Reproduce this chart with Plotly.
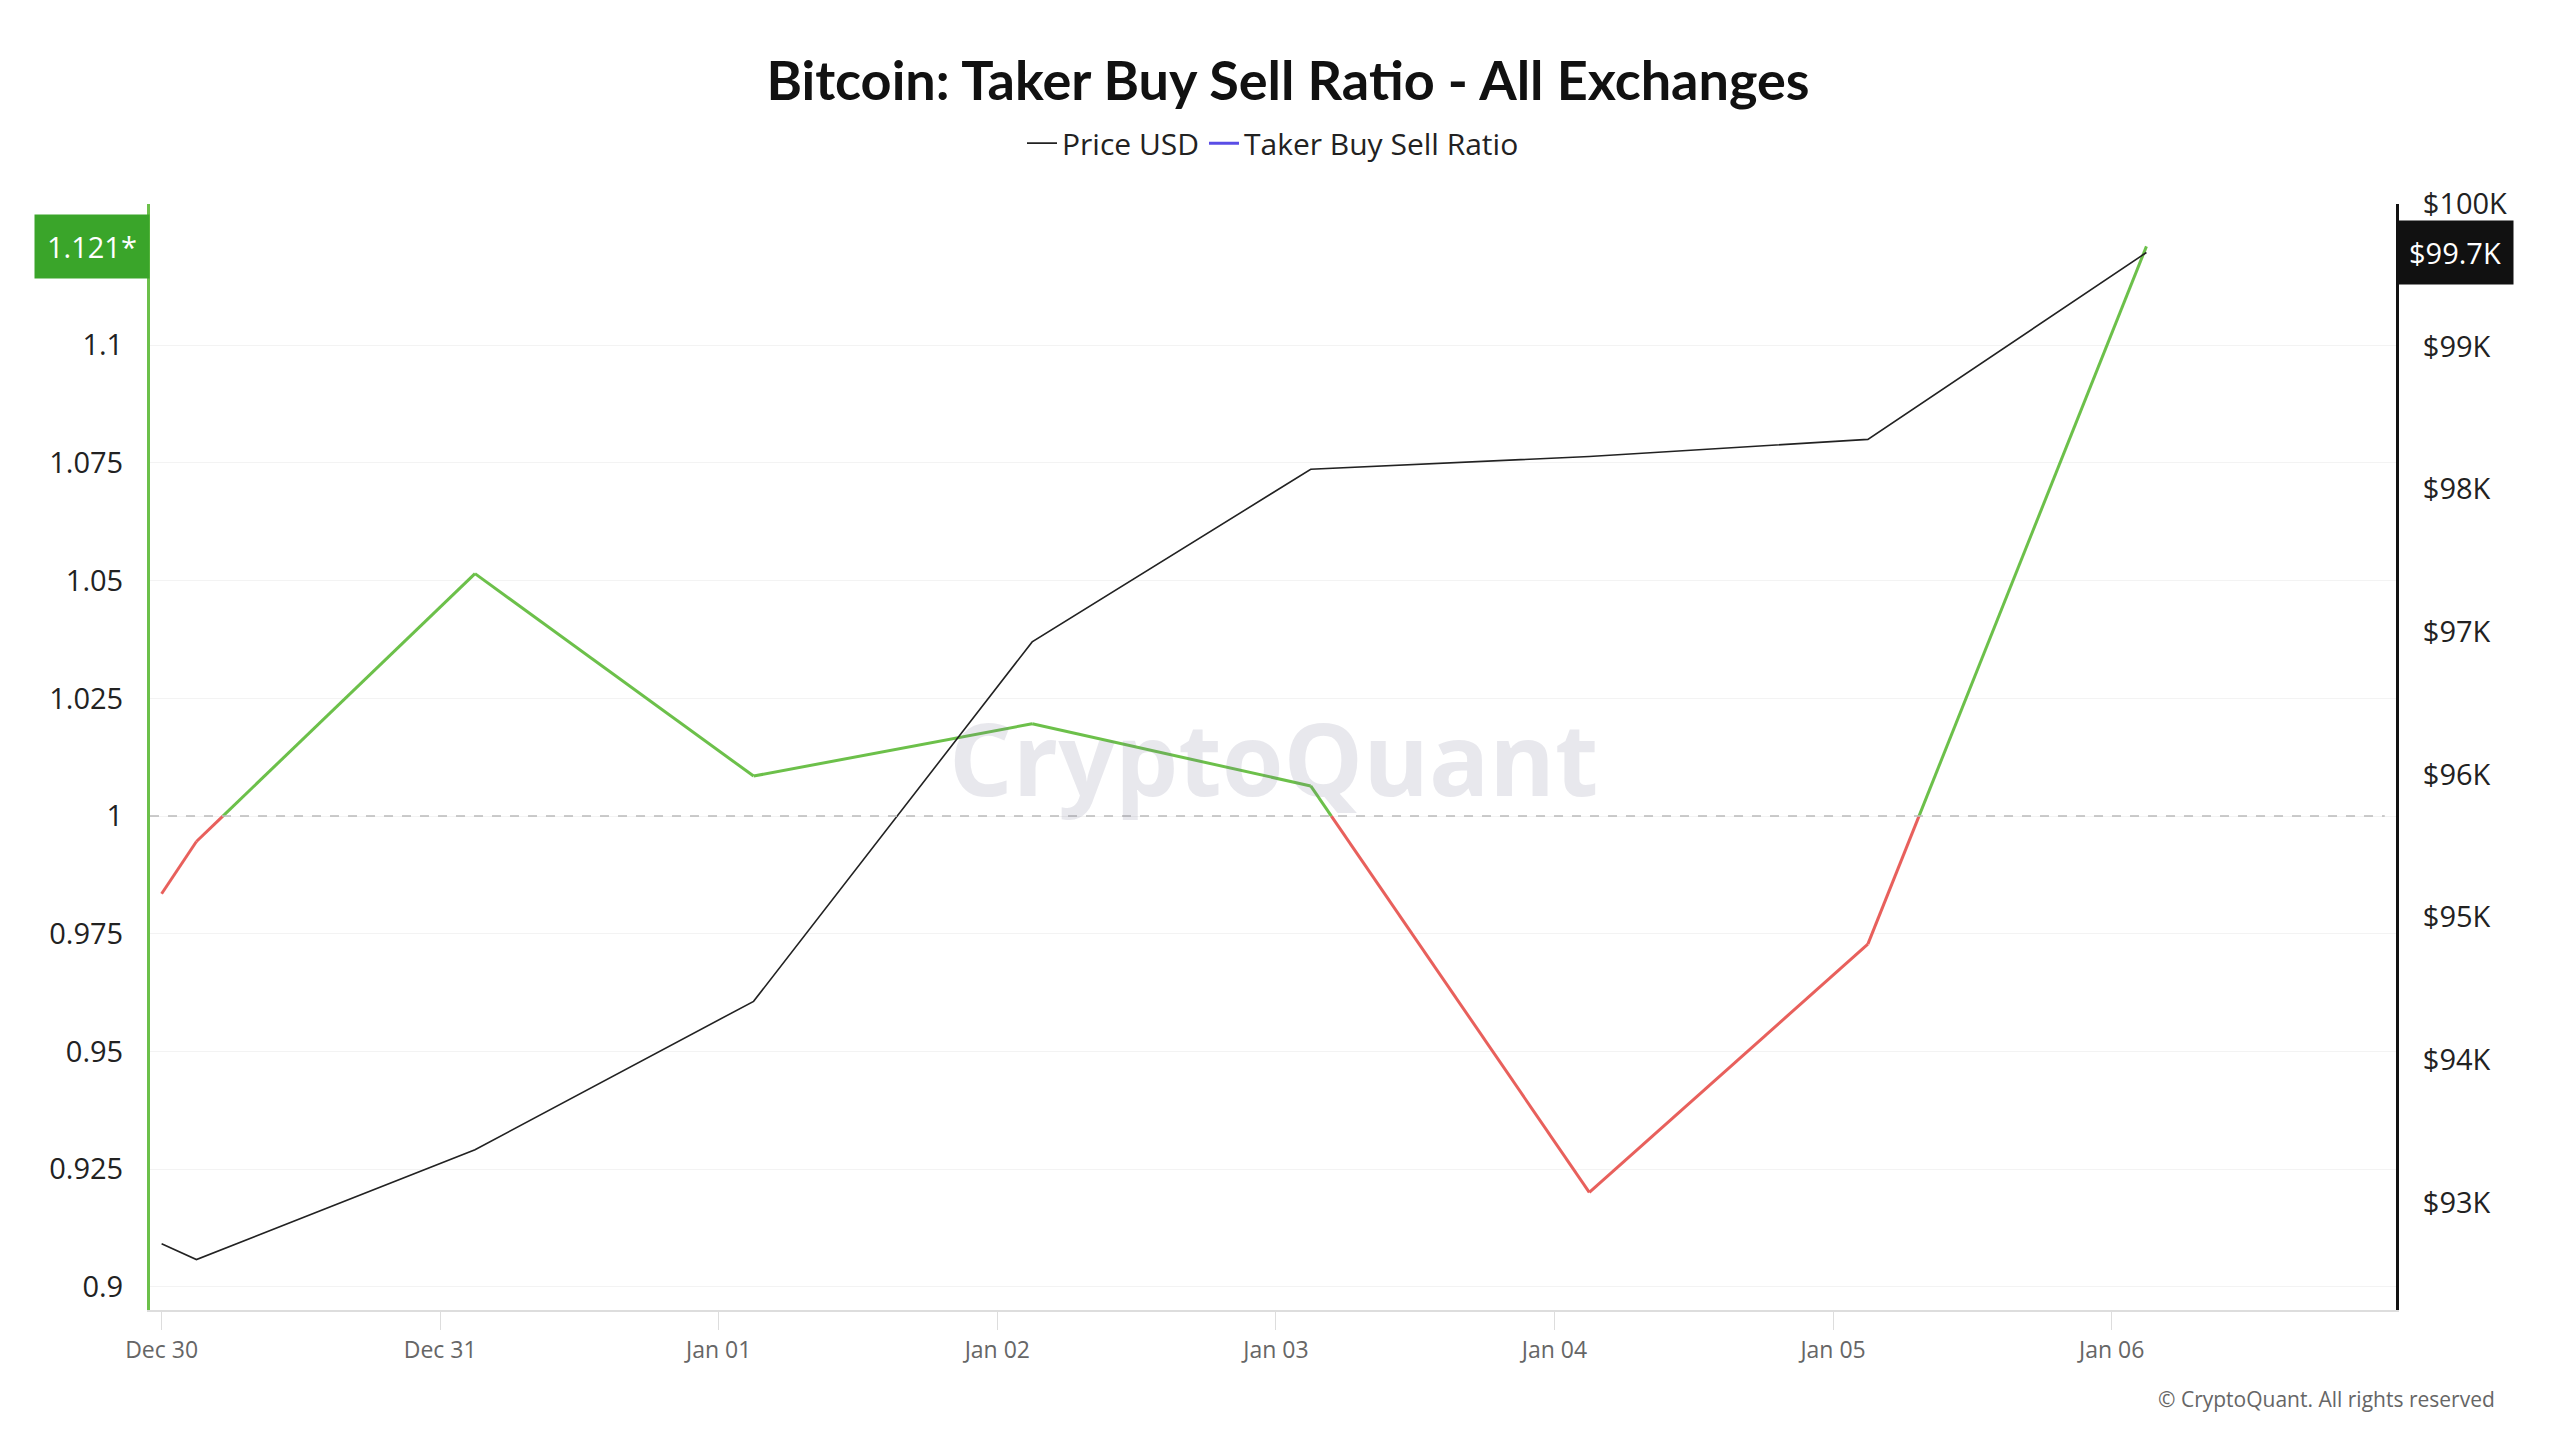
import plotly.graph_objects as go
from datetime import datetime

dates = ["2024-12-30 00:00", "2024-12-30 03:00", "2024-12-31 03:00", "2025-01-01 03:00",
         "2025-01-02 03:00", "2025-01-03 03:00", "2025-01-04 03:00", "2025-01-05 03:00",
         "2025-01-06 03:00"]
ratio = [0.9835, 0.9946, 1.0515, 1.0085, 1.0196, 1.0064, 0.9201, 0.9728, 1.121]
price = [92710, 92600, 93370, 94410, 96930, 98140, 98230, 98350, 99660]
left_ticks = [0.9, 0.925, 0.95, 0.975, 1, 1.025, 1.05, 1.075, 1.1]
right_ticks = [93000, 94000, 95000, 96000, 97000, 98000, 99000, 100000]
right_text = ["$93K", "$94K", "$95K", "$96K", "$97K", "$98K", "$99K", "$100K"]
x_ticks = ["2024-12-30", "2024-12-31", "2025-01-01", "2025-01-02", "2025-01-03",
           "2025-01-04", "2025-01-05", "2025-01-06"]
x_text = ["Dec 30", "Dec 31", "Jan 01", "Jan 02", "Jan 03", "Jan 04", "Jan 05", "Jan 06"]

GREEN, RED = "#6cc04a", "#e8605c"
dt = [datetime.strptime(d, "%Y-%m-%d %H:%M") for d in dates]

segs = []
for i in range(len(dt) - 1):
    x0, x1, y0, y1 = dt[i], dt[i + 1], ratio[i], ratio[i + 1]
    if (y0 - 1) * (y1 - 1) < 0:
        t = (1 - y0) / (y1 - y0)
        xc = x0 + (x1 - x0) * t
        segs.append(([x0, xc], [y0, 1], y0 >= 1))
        segs.append(([xc, x1], [1, y1], y1 >= 1))
    else:
        segs.append(([x0, x1], [y0, y1], (y0 + y1) / 2 >= 1))

fig = go.Figure()
fig.add_trace(go.Scatter(x=dt, y=price, yaxis="y2", mode="lines", name="Price USD",
                         line=dict(color="#222222", width=1.6)))
fig.add_trace(go.Scatter(x=[None], y=[None], mode="lines", name="Taker Buy Sell Ratio",
                         line=dict(color="#5a4de6", width=3)))
for xs, ys, up in segs:
    fig.add_trace(go.Scatter(x=xs, y=ys, mode="lines", showlegend=False,
                             line=dict(color=GREEN if up else RED, width=3)))

fig.add_shape(type="line", xref="paper", x0=0, x1=0.995, y0=1, y1=1, yref="y",
              line=dict(color="#bbbbbb", width=1.5, dash="dash"))

fig.update_layout(
    width=2560, height=1440, plot_bgcolor="white", paper_bgcolor="white",
    font=dict(family="Open Sans", color="#222222"),
    title=dict(text="<b>Bitcoin: Taker Buy Sell Ratio - All Exchanges</b>", x=0.5, y=0.949,
               xanchor="center", yanchor="middle", font=dict(size=54, family="Lato", color="#111111")),
    legend=dict(orientation="h", x=0.5, xanchor="center", y=1.055, yanchor="middle",
                font=dict(size=30)),
    margin=dict(l=142, r=172, t=196, b=138),
    xaxis=dict(type="date", range=["2024-12-29 23:00", "2025-01-07 00:30"],
               tickvals=x_ticks, ticktext=x_text, tickfont=dict(size=23, color="#666"),
               showgrid=False, ticks="outside", ticklen=18, tickcolor="#ddd",
               showline=True, linecolor="#ddd", linewidth=2),
    yaxis=dict(range=[0.8951, 1.130], tickvals=left_ticks, ticktext=[str(v) for v in left_ticks],
               tickfont=dict(size=29), showgrid=True, gridcolor="#f3f3f3",
               showline=True, linecolor=GREEN, linewidth=3, zeroline=False, ticklen=18,
               ticks="outside", tickcolor="white"),
    yaxis2=dict(range=[92246, 100000], overlaying="y", side="right",
                tickvals=right_ticks, ticktext=right_text, tickfont=dict(size=29),
                showgrid=False, showline=True, linecolor="#111", linewidth=3,
                ticks="outside", ticklen=18, tickcolor="white"),
)
fig.add_annotation(text="<b>CryptoQuant</b>", xref="paper", yref="paper", x=0.5, y=0.5,
                   showarrow=False, font=dict(size=100, color="rgba(120,120,150,0.17)", family="Open Sans"))
fig.add_annotation(text="1.121*", xref="paper", yref="y", x=0, y=1.121, xanchor="right",
                   showarrow=False, bgcolor="#3aa52a", font=dict(size=29, color="white"),
                   borderpad=12)
fig.add_annotation(text="$99.7K", xref="paper", yref="y2", x=1, y=99660, xanchor="left",
                   showarrow=False, bgcolor="#111111", font=dict(size=29, color="white"),
                   borderpad=12)
fig.add_annotation(text="© CryptoQuant. All rights reserved", xref="paper", yref="paper",
                   x=1.045, y=-0.095, xanchor="right", showarrow=False,
                   font=dict(size=21, color="#666"))
fig.write_html("out.html")
